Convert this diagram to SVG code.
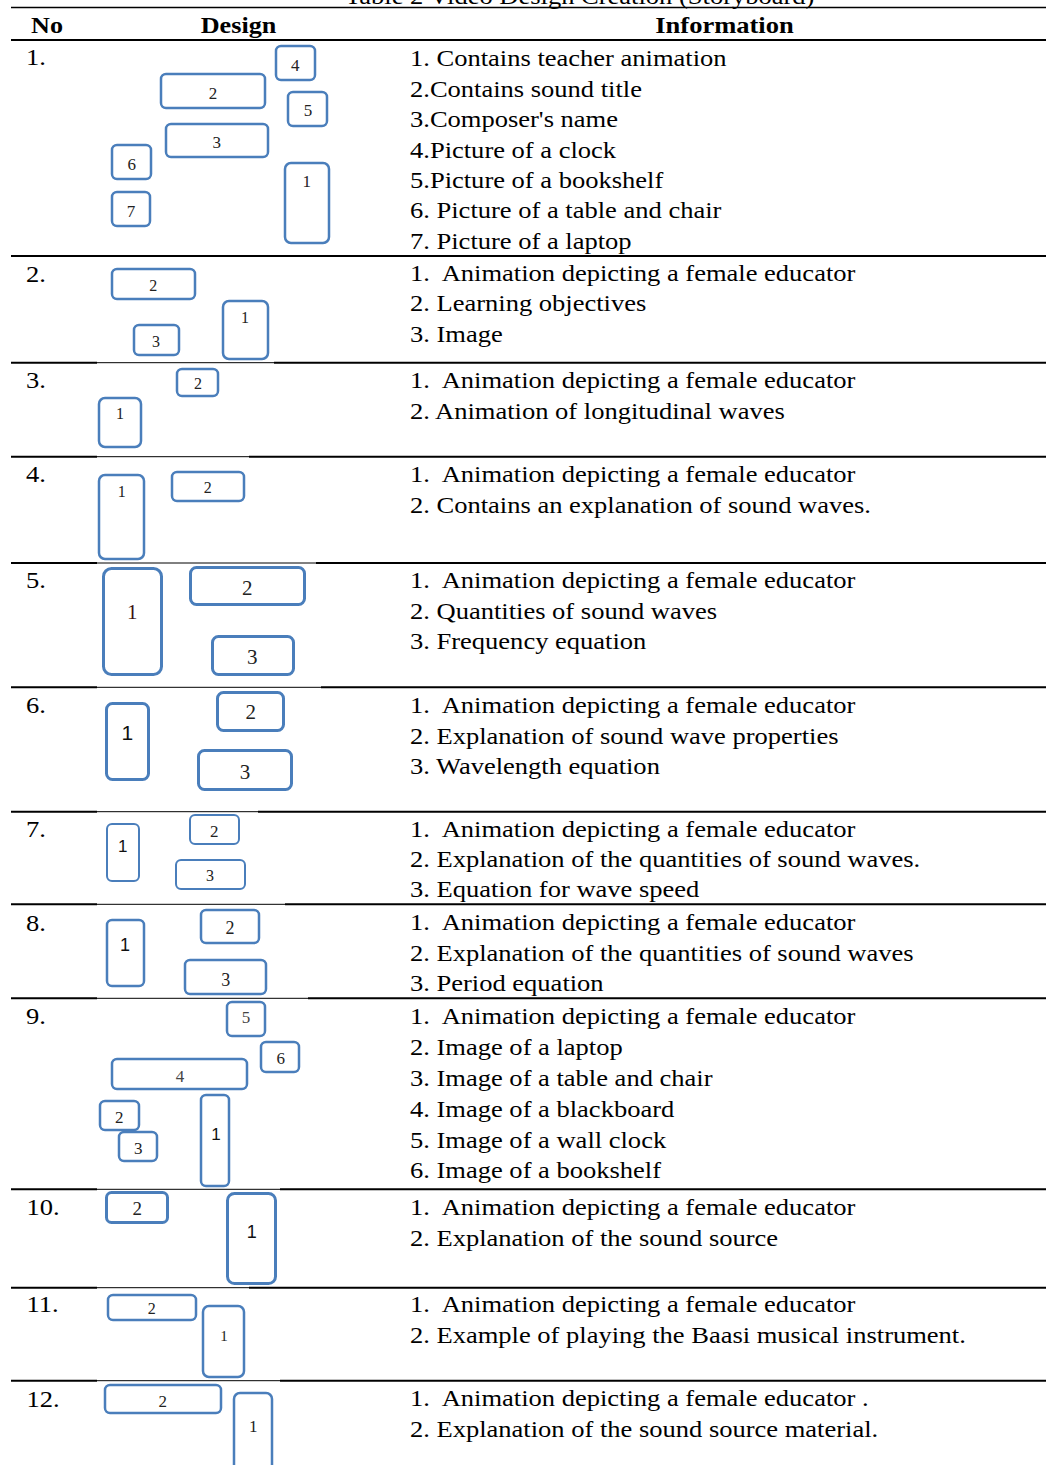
<svg xmlns="http://www.w3.org/2000/svg" width="1046" height="1465" viewBox="0 0 1046 1465">
<style>
  .t { font-family: "Liberation Serif", "Times New Roman", serif; font-size: 24px; fill: #000; }
  .b { font-weight: bold; }
  .box { fill: #fff; stroke: #4A7EBB; stroke-width: 2.5; }
  .bx3 { stroke-width: 3; }
  .bx2 { stroke-width: 2; }
  .lb { font-family: "Liberation Serif", "Times New Roman", serif; fill: #222; text-anchor: middle; }
  .ls { font-family: "Liberation Sans", Arial, sans-serif; fill: #111; text-anchor: middle; }
  .thick { stroke: #000; stroke-width: 2; fill: none; }
  .thin { stroke: #000; stroke-width: 1; fill: none; }
</style>

<!-- title (cut off at top) -->
<g id="title" transform="translate(345 0) scale(1.105 1)">
  <text class="t" x="0" y="4">Table 2 Video Design Creation (Storyboard)</text>
</g>

<!-- table rules -->
<g id="rules">
  <line class="thick" x1="11" y1="7.5" x2="1046" y2="7.5" style="stroke-width:1.6"/>
  <line class="thick" x1="11" y1="40" x2="1046" y2="40"/>
  <line class="thick" x1="11" y1="256" x2="1046" y2="256"/>
  <g>
    <line class="thick" x1="11" y1="362.7" x2="97" y2="362.7"/><line class="thin" x1="97" y1="362.7" x2="274" y2="362.7"/><line class="thick" x1="274" y1="362.7" x2="1046" y2="362.7"/>
    <line class="thick" x1="11" y1="456.7" x2="97" y2="456.7"/><line class="thin" x1="97" y1="456.7" x2="249" y2="456.7"/><line class="thick" x1="249" y1="456.7" x2="1046" y2="456.7"/>
    <line class="thick" x1="11" y1="563" x2="97" y2="563"/><line class="thin" x1="97" y1="563" x2="316" y2="563"/><line class="thick" x1="316" y1="563" x2="1046" y2="563"/>
    <line class="thick" x1="11" y1="687.3" x2="97" y2="687.3"/><line class="thin" x1="97" y1="687.3" x2="321" y2="687.3"/><line class="thick" x1="321" y1="687.3" x2="1046" y2="687.3"/>
    <line class="thick" x1="11" y1="811.7" x2="97" y2="811.7"/><line class="thin" x1="97" y1="811.7" x2="258" y2="811.7"/><line class="thick" x1="258" y1="811.7" x2="1046" y2="811.7"/>
    <line class="thick" x1="11" y1="904.3" x2="97" y2="904.3"/><line class="thin" x1="97" y1="904.3" x2="285" y2="904.3"/><line class="thick" x1="285" y1="904.3" x2="1046" y2="904.3"/>
    <line class="thick" x1="11" y1="998.3" x2="97" y2="998.3"/><line class="thin" x1="97" y1="998.3" x2="308" y2="998.3"/><line class="thick" x1="308" y1="998.3" x2="1046" y2="998.3"/>
    <line class="thick" x1="11" y1="1189.3" x2="97" y2="1189.3"/><line class="thin" x1="97" y1="1189.3" x2="280" y2="1189.3"/><line class="thick" x1="280" y1="1189.3" x2="1046" y2="1189.3"/>
    <line class="thick" x1="11" y1="1287.7" x2="97" y2="1287.7"/><line class="thin" x1="97" y1="1287.7" x2="249" y2="1287.7"/><line class="thick" x1="249" y1="1287.7" x2="1046" y2="1287.7"/>
    <line class="thick" x1="11" y1="1380.7" x2="97" y2="1380.7"/><line class="thin" x1="97" y1="1380.7" x2="280" y2="1380.7"/><line class="thick" x1="280" y1="1380.7" x2="1046" y2="1380.7"/>
  </g>
</g>

<!-- header -->
<g id="header">
  <text class="t b" transform="translate(31 33) scale(1.09 1)" x="0" y="0">No</text>
  <text class="t b" transform="translate(238.5 33) scale(1.09 1)" x="0" y="0" text-anchor="middle">Design</text>
  <text class="t b" transform="translate(724.5 33) scale(1.105 1)" x="0" y="0" text-anchor="middle">Information</text>
</g>

<!-- row numbers -->
<g id="numbers" transform="translate(26 0) scale(1.105 1)">
  <text class="t" x="0" y="65">1.</text>
  <text class="t" x="0" y="282.3">2.</text>
  <text class="t" x="0" y="388.3">3.</text>
  <text class="t" x="0" y="482.3">4.</text>
  <text class="t" x="0" y="588.3">5.</text>
  <text class="t" x="0" y="713.3">6.</text>
  <text class="t" x="0" y="836.7">7.</text>
  <text class="t" x="0" y="930.7">8.</text>
  <text class="t" x="0" y="1024.3">9.</text>
  <text class="t" x="0.5" y="1215">10.</text>
  <text class="t" x="0.5" y="1312.3">11.</text>
  <text class="t" x="0.5" y="1406.7">12.</text>
</g>

<!-- information column -->
<g id="information" transform="translate(410 0) scale(1.105 1)">
  <text class="t" x="0" y="66">1. Contains teacher animation</text>
  <text class="t" x="0" y="96.7">2.Contains sound title</text>
  <text class="t" x="0" y="127.3">3.Composer's name</text>
  <text class="t" x="0" y="157.7">4.Picture of a clock</text>
  <text class="t" x="0" y="188">5.Picture of a bookshelf</text>
  <text class="t" x="0" y="218.5">6. Picture of a table and chair</text>
  <text class="t" x="0" y="249">7. Picture of a laptop</text>

  <text class="t" x="0" y="280.7">1.&#160; Animation depicting a female educator</text>
  <text class="t" x="0" y="311.5">2. Learning objectives</text>
  <text class="t" x="0" y="341.7">3. Image</text>

  <text class="t" x="0" y="388.3">1.&#160; Animation depicting a female educator</text>
  <text class="t" x="0" y="419.3">2. Animation of longitudinal waves</text>

  <text class="t" x="0" y="481.7">1.&#160; Animation depicting a female educator</text>
  <text class="t" x="0" y="512.7">2. Contains an explanation of sound waves.</text>

  <text class="t" x="0" y="588.3">1.&#160; Animation depicting a female educator</text>
  <text class="t" x="0" y="619.3">2. Quantities of sound waves</text>
  <text class="t" x="0" y="649.3">3. Frequency equation</text>

  <text class="t" x="0" y="713.3">1.&#160; Animation depicting a female educator</text>
  <text class="t" x="0" y="743.7">2. Explanation of sound wave properties</text>
  <text class="t" x="0" y="774">3. Wavelength equation</text>

  <text class="t" x="0" y="836.7">1.&#160; Animation depicting a female educator</text>
  <text class="t" x="0" y="866.7">2. Explanation of the quantities of sound waves.</text>
  <text class="t" x="0" y="897.3">3. Equation for wave speed</text>

  <text class="t" x="0" y="930">1.&#160; Animation depicting a female educator</text>
  <text class="t" x="0" y="960.7">2. Explanation of the quantities of sound waves</text>
  <text class="t" x="0" y="990.7">3. Period equation</text>

  <text class="t" x="0" y="1024.3">1.&#160; Animation depicting a female educator</text>
  <text class="t" x="0" y="1055">2. Image of a laptop</text>
  <text class="t" x="0" y="1086">3. Image of a table and chair</text>
  <text class="t" x="0" y="1116.7">4. Image of a blackboard</text>
  <text class="t" x="0" y="1147.7">5. Image of a wall clock</text>
  <text class="t" x="0" y="1178">6. Image of a bookshelf</text>

  <text class="t" x="0" y="1215">1.&#160; Animation depicting a female educator</text>
  <text class="t" x="0" y="1245.7">2. Explanation of the sound source</text>

  <text class="t" x="0" y="1312.3">1.&#160; Animation depicting a female educator</text>
  <text class="t" x="0" y="1343.3">2. Example of playing the Baasi musical instrument.</text>

  <text class="t" x="0" y="1405.7">1.&#160; Animation depicting a female educator .</text>
  <text class="t" x="0" y="1436.7">2. Explanation of the sound source material.</text>
</g>

<!-- design column: row 1 -->
<g id="row1">
  <g id="r1-4"><rect class="box" x="276" y="46" width="39" height="34" rx="5"/><text class="lb" x="295.3" y="70.7" font-size="17">4</text></g>
  <g id="r1-2"><rect class="box" x="161" y="74" width="104" height="34" rx="5"/><text class="lb" x="213" y="99.3" font-size="17">2</text></g>
  <g id="r1-5"><rect class="box" x="288" y="92" width="39" height="34" rx="5"/><text class="lb" x="308" y="116" font-size="17">5</text></g>
  <g id="r1-3"><rect class="box" x="166" y="124" width="102" height="33" rx="5"/><text class="lb" x="216.7" y="148" font-size="17">3</text></g>
  <g id="r1-6"><rect class="box" x="112" y="145" width="39" height="34" rx="5"/><text class="lb" x="131.7" y="170" font-size="17">6</text></g>
  <g id="r1-7"><rect class="box" x="112" y="192" width="38" height="34" rx="5"/><text class="lb" x="131" y="216.7" font-size="17">7</text></g>
  <g id="r1-1"><rect class="box" x="285" y="163" width="44" height="80" rx="6"/><text class="lb" x="306.7" y="187" font-size="17">1</text></g>
</g>

<g id="row2">
  <g id="r2-2"><rect class="box" x="112" y="269" width="83" height="30" rx="5"/><text class="lb" x="153.3" y="290.7" font-size="16">2</text></g>
  <g id="r2-1"><rect class="box" x="223" y="301" width="45" height="58" rx="6"/><text class="lb" x="245" y="323.3" font-size="16">1</text></g>
  <g id="r2-3"><rect class="box" x="134" y="325" width="45" height="30" rx="5"/><text class="lb" x="156" y="346.7" font-size="16">3</text></g>
</g>

<g id="row3">
  <g id="r3-2"><rect class="box" x="177" y="369" width="41" height="27" rx="5"/><text class="lb" x="198" y="389.3" font-size="16">2</text></g>
  <g id="r3-1"><rect class="box" x="99" y="398" width="42" height="49" rx="6"/><text class="lb" x="120" y="419.3" font-size="16">1</text></g>
</g>

<g id="row4">
  <g id="r4-1"><rect class="box" x="99" y="475" width="45" height="84" rx="6"/><text class="lb" x="121.7" y="496.7" font-size="16">1</text></g>
  <g id="r4-2"><rect class="box" x="172" y="472" width="72" height="29" rx="5"/><text class="lb" x="207.7" y="493.3" font-size="16">2</text></g>
</g>

<g id="row5">
  <g id="r5-1"><rect class="box bx3" x="103.5" y="568.5" width="58" height="106" rx="8"/><text class="lb" x="132.3" y="619.3" font-size="21" style="fill:#3a1010">1</text></g>
  <g id="r5-2"><rect class="box bx3" x="190.5" y="567.5" width="114" height="37" rx="6"/><text class="lb" x="247.3" y="595" font-size="21">2</text></g>
  <g id="r5-3"><rect class="box bx3" x="212.5" y="636.5" width="81" height="38" rx="6"/><text class="lb" x="252.3" y="664" font-size="21">3</text></g>
</g>

<g id="row6">
  <g id="r6-1"><rect class="box bx3" x="106.5" y="703.5" width="42" height="76" rx="6"/><text class="ls" x="127.3" y="740" font-size="21">1</text></g>
  <g id="r6-2"><rect class="box bx3" x="217.5" y="692.5" width="66" height="38" rx="6"/><text class="lb" x="250.7" y="719.3" font-size="21">2</text></g>
  <g id="r6-3"><rect class="box bx3" x="198.5" y="750.5" width="93" height="39" rx="6"/><text class="lb" x="245" y="778.7" font-size="21">3</text></g>
</g>

<g id="row7">
  <g id="r7-1"><rect class="box bx2" x="107" y="824" width="32" height="57" rx="5"/><text class="ls" x="122.7" y="852.3" font-size="17">1</text></g>
  <g id="r7-2"><rect class="box bx2" x="190" y="815" width="49" height="29" rx="5"/><text class="lb" x="214.3" y="837.3" font-size="17">2</text></g>
  <g id="r7-3"><rect class="box bx2" x="176" y="860" width="69" height="29" rx="5"/><text class="lb" x="210" y="880.7" font-size="16">3</text></g>
</g>

<g id="row8">
  <g id="r8-1"><rect class="box" x="107" y="920" width="37" height="66" rx="5"/><text class="ls" x="125" y="950.7" font-size="18">1</text></g>
  <g id="r8-2"><rect class="box" x="201" y="910" width="58" height="33" rx="5"/><text class="lb" x="230" y="934" font-size="18">2</text></g>
  <g id="r8-3"><rect class="box" x="185" y="960" width="81" height="34" rx="5"/><text class="lb" x="225.7" y="985.7" font-size="18">3</text></g>
</g>

<g id="row9">
  <g id="r9-5"><rect class="box" x="227" y="1002" width="38" height="34" rx="5"/><text class="lb" x="246" y="1023.3" font-size="17" style="fill:#444">5</text></g>
  <g id="r9-6"><rect class="box" x="261" y="1042" width="38" height="30" rx="5"/><text class="lb" x="280.7" y="1064" font-size="17">6</text></g>
  <g id="r9-4"><rect class="box" x="112" y="1059" width="135" height="30" rx="5"/><text class="lb" x="180" y="1081.7" font-size="17" style="fill:#444">4</text></g>
  <g id="r9-2"><rect class="box" x="100" y="1101" width="39" height="29" rx="5"/><text class="lb" x="119.3" y="1122.7" font-size="17">2</text></g>
  <g id="r9-3"><rect class="box" x="119" y="1132" width="38" height="29" rx="5"/><text class="lb" x="138.3" y="1154.3" font-size="17">3</text></g>
  <g id="r9-1"><rect class="box" x="201" y="1095" width="28" height="91" rx="5"/><text class="ls" x="216" y="1140" font-size="17">1</text></g>
</g>

<g id="row10">
  <g id="r10-2"><rect class="box bx3" x="106.5" y="1192.5" width="61" height="30" rx="5"/><text class="lb" x="137.3" y="1215" font-size="19">2</text></g>
  <g id="r10-1"><rect class="box bx3" x="227.5" y="1193.5" width="48" height="90" rx="7"/><text class="ls" x="251.7" y="1237.7" font-size="18">1</text></g>
</g>

<g id="row11">
  <g id="r11-2"><rect class="box" x="108" y="1295" width="88" height="25" rx="5"/><text class="lb" x="151.7" y="1314" font-size="16">2</text></g>
  <g id="r11-1"><rect class="box" x="203" y="1306" width="41" height="71" rx="6"/><text class="lb" x="224" y="1340.7" font-size="15">1</text></g>
</g>

<g id="row12">
  <g id="r12-2"><rect class="box" x="105" y="1385" width="116" height="28" rx="5"/><text class="lb" x="162.7" y="1407.3" font-size="17">2</text></g>
  <g id="r12-1"><rect class="box" x="234" y="1393" width="38" height="90" rx="6"/><text class="lb" x="253.3" y="1431.7" font-size="17">1</text></g>
</g>
</svg>
